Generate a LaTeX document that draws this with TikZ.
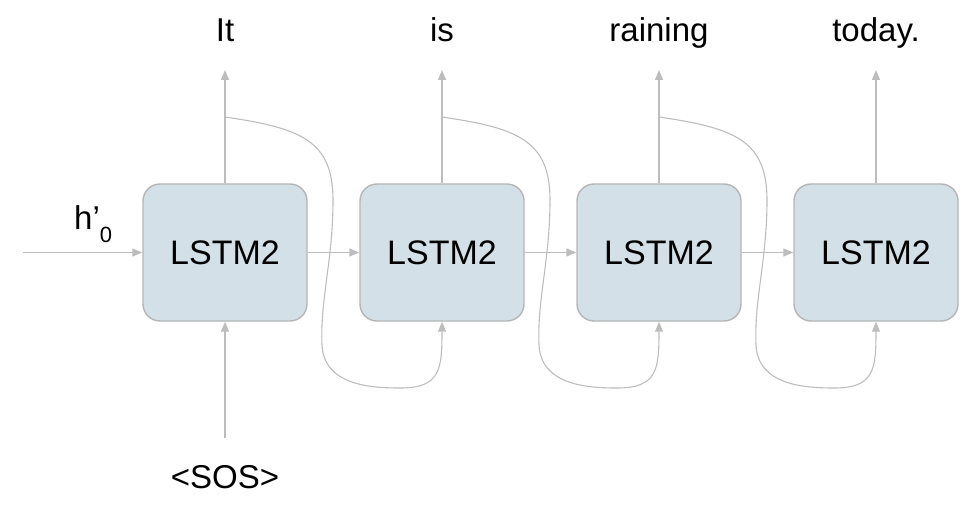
\documentclass[tikz,border=0pt]{standalone}
\usepackage{fontspec}
\setmainfont{Liberation Sans}
\usepackage{tikz}
\usetikzlibrary{arrows.meta,positioning,calc}
\definecolor{cellfill}{HTML}{D3E0E8}
\definecolor{cellline}{HTML}{B5B5B5}
\definecolor{wire}{HTML}{BDBDBD}

\begin{document}
\begin{tikzpicture}[x=1pt, y=-1pt,
    cell/.style={rectangle, draw=cellline, line width=1.4pt, fill=cellfill, rounded corners=17pt, minimum width=164pt, minimum height=137pt, align=center, font=\fontsize{34}{40}\selectfont},
    word/.style={anchor=base, inner sep=0pt, font=\fontsize{33}{40}\selectfont},
    flow/.style={draw=wire, line width=1.3pt, -{Triangle[length=10pt, width=8pt]}},
    feed/.style={draw=wire, line width=1.1pt, -{Triangle[length=10pt, width=8pt]}}
]
    \useasboundingbox (0,0) rectangle (979,529);

    \node[cell] (lstm1) at (225,252.5) {LSTM2};
    \node[cell] (lstm2) at (442,252.5) {LSTM2};
    \node[cell] (lstm3) at (659,252.5) {LSTM2};
    \node[cell] (lstm4) at (876,252.5) {LSTM2};

    \node[word] (out1) at (225,42) {It};
    \node[word] (out2) at (442,42) {is};
    \node[word] (out3) at (659,42) {raining};
    \node[word] (out4) at (876,42) {today.};

    \node[word] (sos) at (225,488) {<SOS>};
    \node[word, anchor=base west] (hlab) at (74,230) {h’\raisebox{-13pt}{\fontsize{22}{22}\selectfont 0}};
    \coordinate (hin) at (23,252.5);

    \draw[flow] (hin) -- (lstm1.west);
    \draw[flow] (lstm1) -- (lstm2);
    \draw[flow] (lstm2) -- (lstm3);
    \draw[flow] (lstm3) -- (lstm4);

    \draw[flow, shorten <=50pt] (sos.base) -- (lstm1.south);
    \foreach \i in {1,...,4}
        \draw[flow, shorten >=28pt] (lstm\i.north) -- (out\i.base);

    % output fed back as next input
    \foreach \i/\j in {1/2,2/3,3/4} {
        \begin{scope}[xshift={(\i-1)*217pt}]
            \coordinate (tap\i) at (225,117);
            \draw[feed] (tap\i) .. controls (300,128) and (333,140) .. (333,200)
                .. controls (333,260) and (320,300) .. (322,345)
                .. controls (324,385) and (370,388) .. (400,388)
                .. controls (440,388) and (442,370) .. (lstm\j.south);
        \end{scope}
    }
\end{tikzpicture}
\end{document}
